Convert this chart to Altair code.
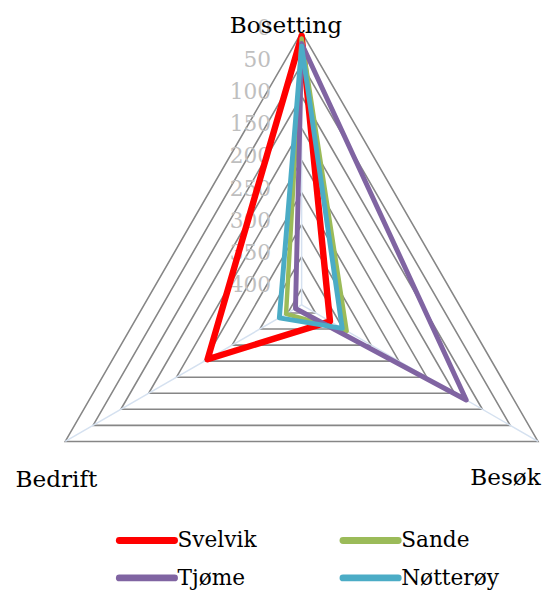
import altair as alt
import pandas as pd

# ---- data ----
axes = ["Bosetting", "Besøk", "Bedrift"]
series = ["Svelvik", "Sande", "Tjøme", "Nøtterøy"]
svelvik = [6, 374, 256]
sande = [10, 344, 397]
tjome = [18, 129, 414]
notteroy = [22, 352, 385]
ticks = [0, 50, 100, 150, 200, 250, 300, 350, 400]
axis_max = 425  # value at centre (reversed radial axis)

# ---- styling / layout ----
colors = ["#FF0000", "#9BBB59", "#8064A2", "#4BACC6"]
widths = [6.5, 4.5, 5, 5]
CX, CY, R = 298, 297, 277
W, H = 545, 589
FONT = "DejaVu Serif"

values = [svelvik, sande, tjome, notteroy]

# series long table (closed triangles)
rows = []
for s, vals in zip(series, values):
    for o in range(4):
        k = o % 3
        rows.append({"series": s, "o": o, "k": k, "v": vals[k]})
series_df = pd.DataFrame(rows)

grid_rows = []
for t in ticks:
    for o in range(4):
        grid_rows.append({"tick": t, "o": o, "k": o % 3, "v": t})
grid_df = pd.DataFrame(grid_rows)

spoke_df = pd.DataFrame({"k": list(range(3)), "v": [ticks[0]] * 3, "axis": axes})
tick_df = pd.DataFrame({"k": [0] * len(ticks), "v": ticks, "label": [str(t) for t in ticks]})
legend_df = pd.DataFrame({"series": series, "i": list(range(len(series)))})

ang = "(PI/2 - datum.k*2*PI/3)"
rad = f"({R}*({axis_max}-datum.v)/{axis_max})"
px = f"{CX} + {rad}*cos({ang})"
py = f"{CY} - {rad}*sin({ang})"

xs = alt.Scale(domain=[0, W], nice=False, zero=False)
ys = alt.Scale(domain=[0, H], nice=False, zero=False, reverse=True)
X = lambda f: alt.X(f, type="quantitative", scale=xs, axis=None)
Y = lambda f: alt.Y(f, type="quantitative", scale=ys, axis=None)

color = alt.Color("series:N", scale=alt.Scale(domain=series, range=colors), legend=None)

grid = alt.Chart(grid_df).transform_calculate(px=px, py=py).mark_line(
    color="#868686", strokeWidth=1.6
).encode(x=X("px"), y=Y("py"), detail="tick:N", order="o:Q")

spokes = alt.Chart(spoke_df).transform_calculate(
    px=px, py=py, cx=f"{CX}", cy=f"{CY}"
).mark_rule(color="#D5E1F0", strokeWidth=1.5).encode(
    x=X("cx"), y=Y("cy"), x2="px:Q", y2="py:Q"
)

tick_labels = alt.Chart(tick_df).transform_calculate(px=px, py=py).mark_text(
    align="right", baseline="middle", dx=-31, dy=-4, font=FONT, fontSize=22, color="#BFBFBF"
).encode(x=X("px"), y=Y("py"), text="label:N")

lines = alt.Chart(series_df).transform_calculate(px=px, py=py).mark_line(
    strokeJoin="round", strokeCap="round"
).encode(
    x=X("px"), y=Y("py"), color=color, detail="series:N", order="o:Q",
    strokeWidth=alt.StrokeWidth("series:N", scale=alt.Scale(type="ordinal", domain=series, range=widths), legend=None),
)

def cat_label(i, dx, dy):
    return alt.Chart(spoke_df).transform_filter(f"datum.k == {i}").transform_calculate(
        px=px, py=py
    ).mark_text(
        align="center", baseline="middle", dx=dx, dy=dy, font=FONT, fontSize=23.5, color="#000000"
    ).encode(x=X("px"), y=Y("py"), text="axis:N")

lab_top = cat_label(0, -16, -6)
lab_right = cat_label(1, -33, 37)
lab_left = cat_label(2, -9, 39)

leg_base = alt.Chart(legend_df).transform_calculate(
    lx=f"113 + (datum.i % 2)*227",
    lx2=f"169 + (datum.i % 2)*227",
    ly=f"536 + floor(datum.i/2)*38",
)
leg_sym = leg_base.mark_rule(strokeWidth=7, strokeCap="round").encode(
    x=X("lx"), x2="lx2:Q", y=Y("ly"), color=color
)
leg_txt = leg_base.mark_text(
    align="left", baseline="middle", dx=3, font=FONT, fontSize=22, color="#000000"
).encode(x=X("lx2"), y=Y("ly"), text="series:N")

chart = alt.layer(
    grid, spokes, tick_labels, lines, lab_top, lab_right, lab_left, leg_sym, leg_txt
).properties(
    width=W, height=H, padding=0, autosize=alt.AutoSizeParams(type="none")
).configure_view(stroke=None)

chart.save("out.html", embed_options={"renderer": "svg", "actions": False})
